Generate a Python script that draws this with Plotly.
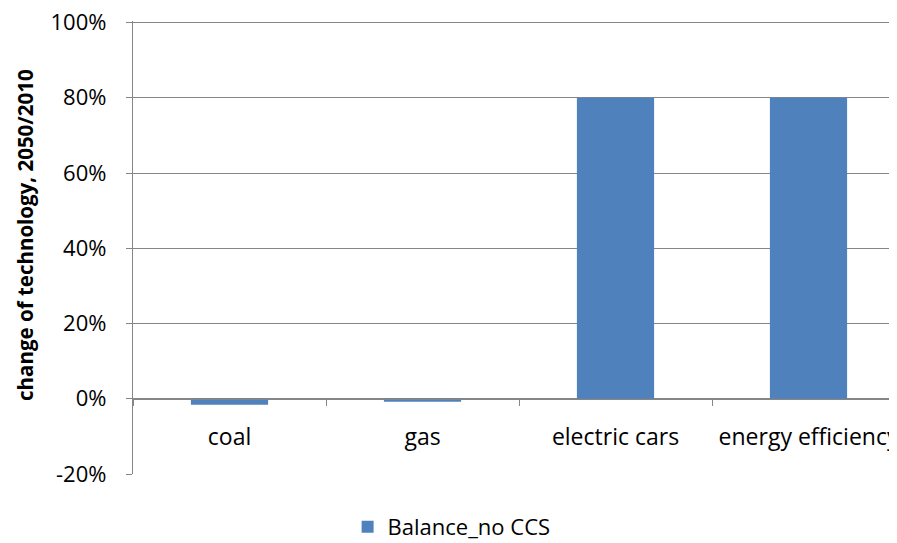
import plotly.graph_objects as go

categories = ["coal", "gas", "electric cars", "energy efficiency"]
values = [-0.016, -0.008, 0.80, 0.80]
series_name = "Balance_no CCS"
y_ticks = [-0.2, 0, 0.2, 0.4, 0.6, 0.8, 1.0]
y_tick_labels = ["-20%", "0%", "20%", "40%", "60%", "80%", "100%"]
y_title = "change of technology, 2050/2010"

FONT = "'Open Sans', 'Noto Sans', sans-serif"
GRID = "#868686"

fig = go.Figure()
fig.add_trace(go.Bar(
    x=categories, y=values, name=series_name,
    marker=dict(color="#4F81BD", line=dict(width=0)),
    width=0.4, showlegend=True,
))

fig.update_layout(
    width=897, height=543,
    margin=dict(l=125, r=0, t=12.5, b=77, autoexpand=False),
    paper_bgcolor="white", plot_bgcolor="white",
    font=dict(family=FONT, size=22, color="#000000"),
    showlegend=True,
    legend=dict(orientation="h", x=0.278, xanchor="left", y=-0.117, yanchor="middle",
                font=dict(size=22), itemwidth=30),
    xaxis=dict(
        type="category", range=[-0.5, 3.5],
        anchor="free", position=(0 - (-0.2)) / 1.204, automargin=False,
        showline=True, linecolor=GRID, linewidth=1.3,
        ticks="outside", tickson="boundaries", ticklen=6, tickcolor=GRID, tickwidth=1.3,
        showgrid=False, ticklabelstandoff=17,
        tickfont=dict(size=23),
    ),
    yaxis=dict(
        range=[-0.2, 1.004], tickvals=y_ticks, ticktext=y_tick_labels,
        automargin=False, ticklabeloverflow="allow",
        showline=True, linecolor=GRID, linewidth=1.3,
        ticks="outside", ticklen=6, tickcolor=GRID, tickwidth=1.3,
        showgrid=True, gridcolor=GRID, gridwidth=1.3,
        zeroline=False, ticklabelstandoff=15,
        tickfont=dict(size=22),
    ),
    annotations=[dict(
        text="<b>" + y_title + "</b>", textangle=-90,
        xref="paper", yref="paper", x=0, y=0.5277,
        xanchor="center", yanchor="middle", xshift=-108,
        showarrow=False, font=dict(size=20.5, family=FONT, color="#000000"),
    )],
)

fig.write_html("out.html")
